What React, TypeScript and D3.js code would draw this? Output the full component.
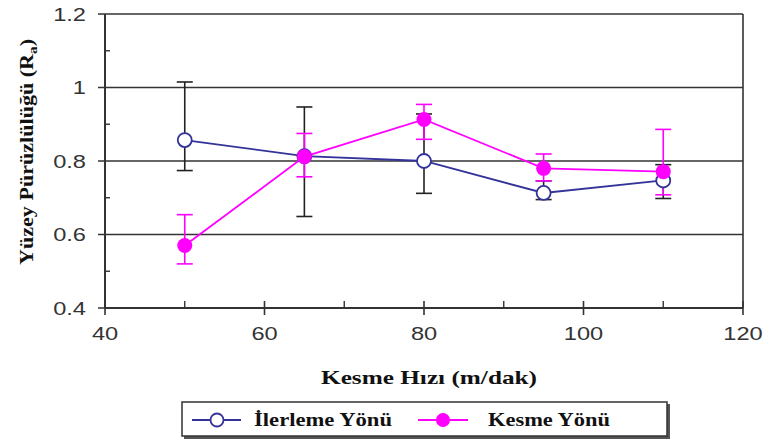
import React from "react";
import * as d3 from "d3";

// cutting speed (m/dak)
const speeds = [50, 65, 80, 95, 110];
// İlerleme Yönü (feed direction)
const feedMean = [0.857, 0.813, 0.8, 0.713, 0.747];
const feedHigh = [1.015, 0.947, 0.928, 0.746, 0.79];
const feedLow = [0.774, 0.649, 0.712, 0.695, 0.698];
// Kesme Yönü (cutting direction)
const cutMean = [0.57, 0.812, 0.913, 0.78, 0.771];
const cutHigh = [0.654, 0.875, 0.954, 0.819, 0.886];
const cutLow = [0.52, 0.757, 0.859, 0.746, 0.708];

const xTicks = [40, 60, 80, 100, 120];
const xMinor = [50, 70, 90, 110];
const yTicks = [0.4, 0.6, 0.8, 1, 1.2];
const yMinor = [0.5, 0.7, 0.9, 1.1];

const W = 767;
const H = 441;
const left = 105;
const right = 743;
const top = 14;
const bottom = 308;

const BLUE = "#333399";
const PINK = "#ff00ff";
const INK = "#222";

const App = () => {
  const x = d3.scaleLinear().domain([40, 120]).range([left, right]);
  const y = d3.scaleLinear().domain([0.4, 1.2]).range([bottom, top]);

  const line = d3.line<number>().x((_, i) => x(speeds[i])).y(d => y(d));

  const sans = "'Liberation Sans', Arial, sans-serif";
  const serif = "'Liberation Serif', 'Times New Roman', serif";

  const errBars = (hi: number[], lo: number[], color: string) =>
    speeds.map((s, i) => (
      <g key={i} stroke={color} strokeWidth={1.6}>
        <line x1={x(s)} x2={x(s)} y1={y(hi[i])} y2={y(lo[i])} />
        <line x1={x(s) - 8} x2={x(s) + 8} y1={y(hi[i])} y2={y(hi[i])} />
        <line x1={x(s) - 8} x2={x(s) + 8} y1={y(lo[i])} y2={y(lo[i])} />
      </g>
    ));

  return (
    <svg width={W} height={H} style={{ position: "absolute", left: 0, top: 0 }}>
      <rect width={W} height={H} fill="#fff" />
      {/* gridlines + y major ticks */}
      {yTicks.map(t => (
        <line key={t} x1={left - 7} x2={right} y1={y(t)} y2={y(t)} stroke="#333" strokeWidth={1.6} />
      ))}
      {yMinor.map(t => (
        <line key={t} x1={left} x2={left + 5} y1={y(t)} y2={y(t)} stroke="#333" strokeWidth={1.4} />
      ))}
      {/* axes and frame */}
      <line x1={left} x2={left} y1={top} y2={bottom} stroke="#333" strokeWidth={2} />
      <line x1={right} x2={right} y1={top} y2={bottom} stroke="#333" strokeWidth={1.6} />
      <line x1={left} x2={right} y1={bottom} y2={bottom} stroke="#333" strokeWidth={2} />
      {xTicks.map(t => (
        <line key={t} x1={x(t)} x2={x(t)} y1={bottom - 7} y2={bottom + 7} stroke="#333" strokeWidth={1.6} />
      ))}
      {xMinor.map(t => (
        <line key={t} x1={x(t)} x2={x(t)} y1={bottom - 7} y2={bottom} stroke="#333" strokeWidth={1.4} />
      ))}
      {/* tick labels */}
      {yTicks.map(t => (
        <text key={t} transform={`translate(${left - 19},${y(t) + 6.5}) scale(1.35,1)`}
          textAnchor="end" fontFamily={sans} fontSize={17.5} fill="#333">{String(t)}</text>
      ))}
      {xTicks.map(t => (
        <text key={t} transform={`translate(${x(t)},${bottom + 32}) scale(1.35,1)`}
          textAnchor="middle" fontFamily={sans} fontSize={17.5} fill="#333">{String(t)}</text>
      ))}
      {/* axis titles */}
      <text x={429} y={384} textAnchor="middle" fontFamily={serif} fontWeight="bold" fontSize={19}
        fill="#111" textLength={216} lengthAdjust="spacingAndGlyphs">Kesme Hızı (m/dak)</text>
      <text transform="translate(33,152) rotate(-90)" textAnchor="middle"
        fontFamily={serif} fontWeight="bold" fontSize={19} fill="#111" textLength={226}
        lengthAdjust="spacingAndGlyphs">
        Yüzey Pürüzlülüğü (R<tspan fontSize={13} dy={4}>a</tspan><tspan dy={-4}>)</tspan>
      </text>
      {/* error bars */}
      {errBars(feedHigh, feedLow, INK)}
      {errBars(cutHigh, cutLow, PINK)}
      {/* series */}
      <path d={line(feedMean) || ""} fill="none" stroke={BLUE} strokeWidth={1.8} />
      <path d={line(cutMean) || ""} fill="none" stroke={PINK} strokeWidth={1.8} />
      {feedMean.map((v, i) => (
        <circle key={i} cx={x(speeds[i])} cy={y(v)} r={7} fill="#fff" stroke={BLUE} strokeWidth={1.8} />
      ))}
      {cutMean.map((v, i) => (
        <circle key={i} cx={x(speeds[i])} cy={y(v)} r={7.5} fill={PINK} />
      ))}
      {/* legend */}
      <rect x={184} y={404} width={486} height={35} fill="#555" />
      <rect x={182} y={402} width={485} height={34} fill="#fff" stroke="#333" strokeWidth={1.5} />
      <line x1={192} x2={241} y1={420} y2={420} stroke={BLUE} strokeWidth={1.8} />
      <circle cx={217} cy={420} r={6.5} fill="#fff" stroke={BLUE} strokeWidth={1.8} />
      <text x={254} y={426} fontFamily={serif} fontWeight="bold" fontSize={19} fill="#111"
        textLength={138} lengthAdjust="spacingAndGlyphs">İlerleme  Yönü</text>
      <line x1={418} x2={468} y1={420} y2={420} stroke={PINK} strokeWidth={1.8} />
      <circle cx={443} cy={420} r={7} fill={PINK} />
      <text x={488} y={426} fontFamily={serif} fontWeight="bold" fontSize={19} fill="#111"
        textLength={122} lengthAdjust="spacingAndGlyphs">Kesme Yönü</text>
    </svg>
  );
};

export default App;
